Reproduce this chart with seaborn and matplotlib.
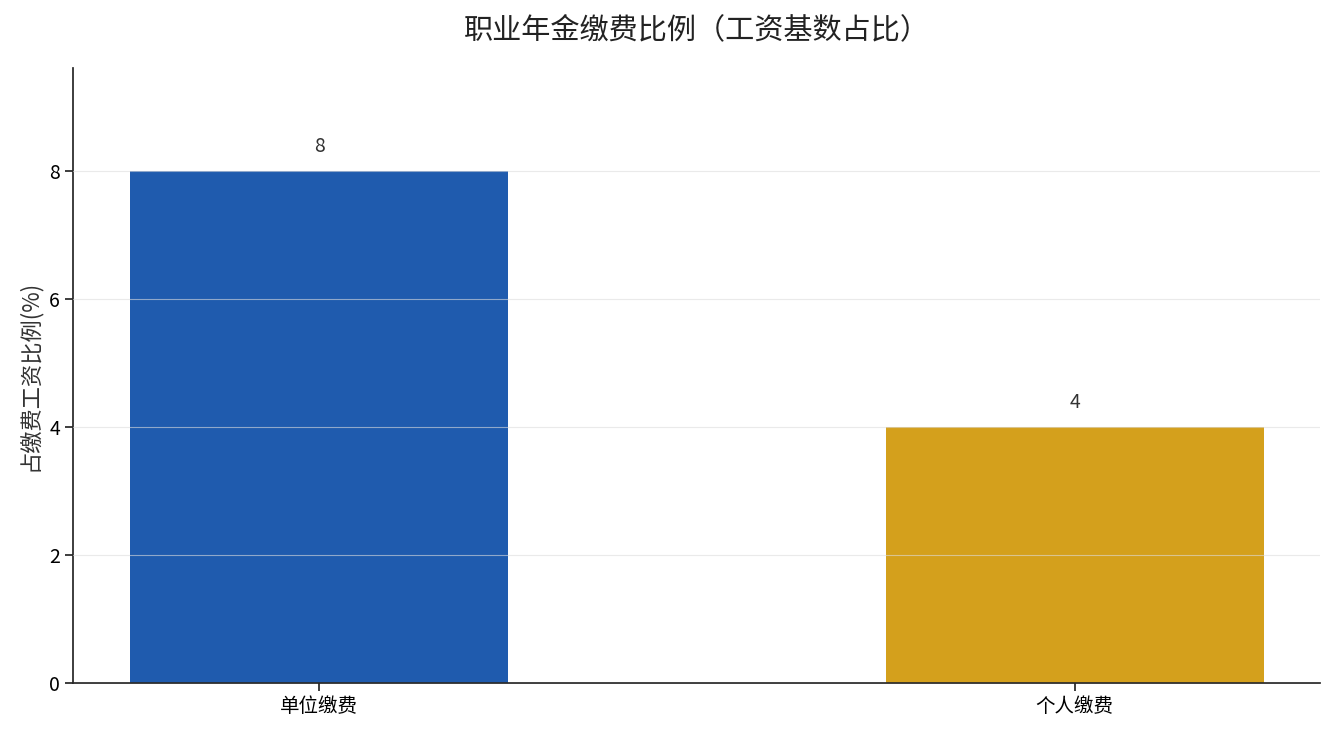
import seaborn as sns
import matplotlib.pyplot as plt
import pandas as pd

categories = ["单位缴费", "个人缴费"]
values = [8, 4]
bar_colors = ["#1F5BAE", "#D4A01C"]

sns.set_theme(style="ticks")
plt.rcParams['font.family'] = ['Noto Sans CJK SC', 'DejaVu Sans']

df = pd.DataFrame({"类别": categories, "比例": values})

fig, ax = plt.subplots(figsize=(13.35, 7.35), dpi=100)
sns.barplot(data=df, x="类别", y="比例", hue="类别", palette=bar_colors,
            width=0.5, legend=False, saturation=1, linewidth=0, ax=ax)

for i, v in enumerate(values):
    ax.annotate(f"{v}", (i, v), xytext=(0, 10), textcoords="offset points",
                ha="center", va="bottom", fontsize=14, color="#333333")

ax.set_xlim(-0.325, 1.325)
ax.set_ylim(0, max(values) * 1.2)
ax.set_yticks([0, 2, 4, 6, 8])
ax.grid(axis="y", color="#dddddd", alpha=0.6, linewidth=0.8)
ax.set_axisbelow(False)
ax.set_xlabel("")
ax.set_ylabel("占缴费工资比例(%)", fontsize=16, color="#333333", labelpad=6)
ax.set_title("职业年金缴费比例（工资基数占比）", fontsize=21, color="#222222", pad=22)
ax.tick_params(labelsize=14, labelcolor="black")
sns.despine()

plt.subplots_adjust(left=0.055, right=0.989, top=0.907, bottom=0.071)
plt.savefig("out.png")
